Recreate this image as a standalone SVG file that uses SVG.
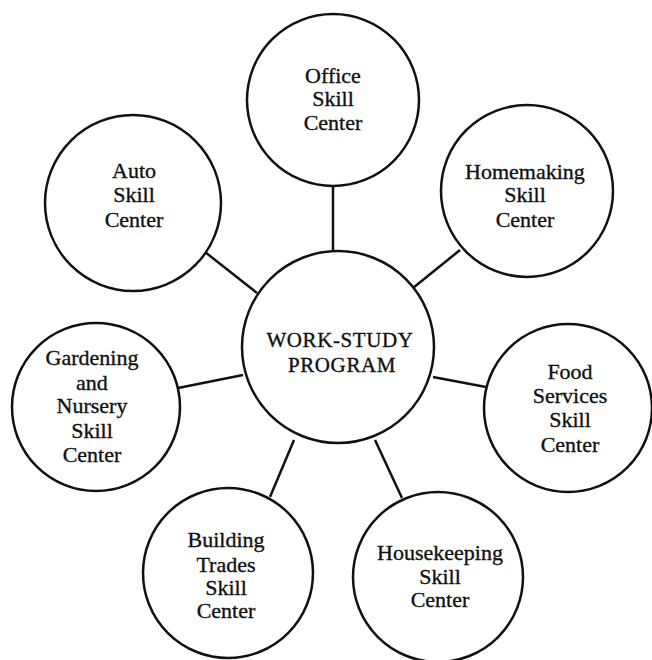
<svg xmlns="http://www.w3.org/2000/svg" width="652" height="660" viewBox="0 0 652 660">
  <style>
    .node circle { fill: #fff; stroke: #111; stroke-width: 2.5; }
    .node text { font-family: "Liberation Serif", "Times New Roman", serif; font-size: 22px; fill: #111; stroke: #111; stroke-width: 0.35; text-anchor: middle; }
    .hub text { font-size: 21px; letter-spacing: 0.6px; }
    #connectors line { stroke: #111; stroke-width: 2.5; }
  </style>
  <rect width="652" height="660" fill="#fff"/>

  <!-- spokes from the hub to each skill center -->
  <g id="connectors">
    <line x1="333" y1="186" x2="333" y2="251"/>
    <line x1="205" y1="252" x2="257" y2="293"/>
    <line x1="460" y1="250" x2="413" y2="288"/>
    <line x1="178" y1="388" x2="243" y2="375"/>
    <line x1="433" y1="377" x2="486" y2="387"/>
    <line x1="294" y1="440" x2="270" y2="497"/>
    <line x1="375" y1="440" x2="402" y2="498"/>
  </g>

  <g id="hub" class="node hub">
    <circle cx="338" cy="347" r="96"/>
    <text x="340" y="347">WORK-STUDY</text>
    <text x="342" y="372">PROGRAM</text>
  </g>

  <g id="office" class="node">
    <circle cx="333" cy="100" r="86"/>
    <text x="333" y="83">Office</text>
    <text x="333" y="106">Skill</text>
    <text x="333" y="130">Center</text>
  </g>

  <g id="auto" class="node">
    <circle cx="133" cy="203" r="88"/>
    <text x="134" y="178">Auto</text>
    <text x="134" y="202">Skill</text>
    <text x="134" y="227">Center</text>
  </g>

  <g id="homemaking" class="node">
    <circle cx="527" cy="191" r="86"/>
    <text x="525" y="179">Homemaking</text>
    <text x="525" y="202">Skill</text>
    <text x="525" y="227">Center</text>
  </g>

  <g id="gardening" class="node">
    <circle cx="96" cy="407" r="84"/>
    <text x="92" y="365">Gardening</text>
    <text x="92" y="390">and</text>
    <text x="92" y="413">Nursery</text>
    <text x="92" y="438">Skill</text>
    <text x="92" y="462">Center</text>
  </g>

  <g id="food" class="node">
    <circle cx="568" cy="408" r="84"/>
    <text x="570" y="379">Food</text>
    <text x="570" y="403">Services</text>
    <text x="570" y="427">Skill</text>
    <text x="570" y="452">Center</text>
  </g>

  <g id="building" class="node">
    <circle cx="228" cy="573" r="85"/>
    <text x="226" y="547">Building</text>
    <text x="226" y="572">Trades</text>
    <text x="226" y="595">Skill</text>
    <text x="226" y="618">Center</text>
  </g>

  <g id="housekeeping" class="node">
    <circle cx="438" cy="577" r="85"/>
    <text x="440" y="560">Housekeeping</text>
    <text x="440" y="584">Skill</text>
    <text x="440" y="607">Center</text>
  </g>
</svg>
